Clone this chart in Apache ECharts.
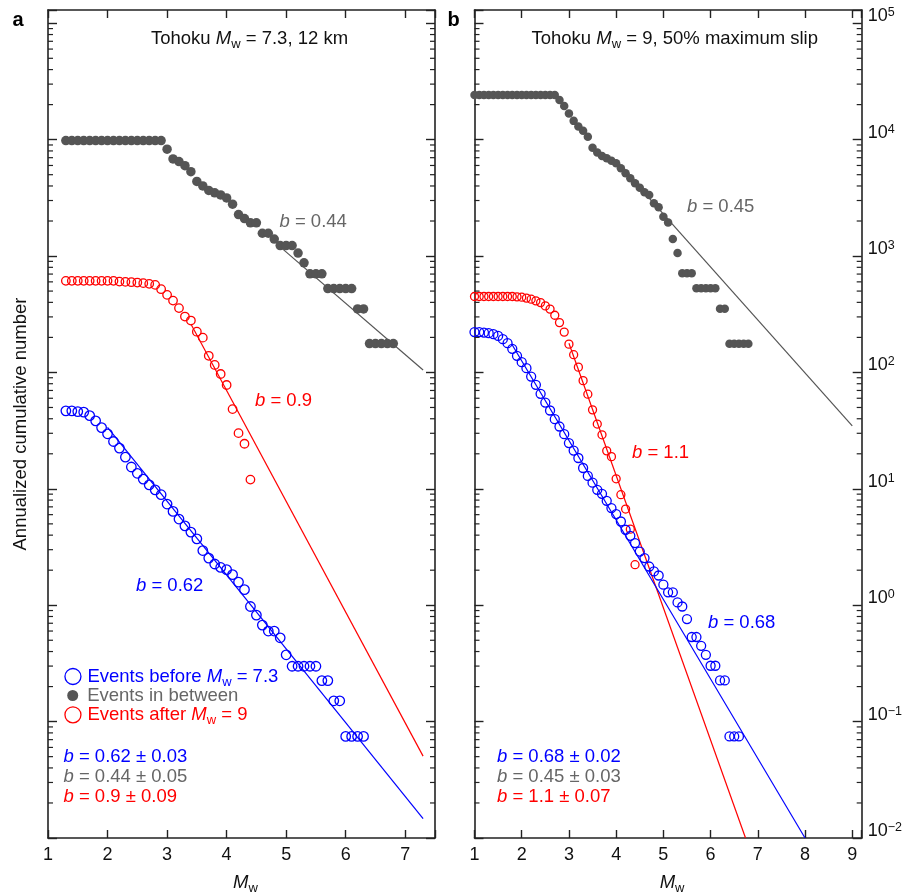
<!DOCTYPE html>
<html><head><meta charset="utf-8">
<script src="https://cdn.jsdelivr.net/npm/echarts@6/dist/echarts.min.js"></script>
<style>html,body{margin:0;padding:0;background:#fff}#c{width:903px;height:893px}</style>
</head><body><div id="c"></div>
<script>
// ---------------- DATA ----------------
// Panel a: Tohoku Mw = 7.3, 12 km
const aGrayM = [1.3,1.4,1.5,1.6,1.7,1.8,1.9,2.0,2.1,2.2,2.3,2.4,2.5,2.6,2.7,2.8,2.9,3.0,3.1,3.2,3.3,3.4,3.5,3.6,3.7,3.8,3.9,4.0,4.1,4.2,4.3,4.4,4.5,4.6,4.7,4.8,4.9,5.0,5.1,5.2,5.3,5.4,5.5,5.6,5.7,5.8,5.9,6.0,6.1,6.2,6.3,6.4,6.5,6.6,6.7,6.8];
const aGrayN = [9810,9810,9810,9810,9810,9810,9810,9810,9810,9810,9810,9810,9810,9810,9810,9810,9810,8280,6830,6480,5980,5310,4380,4000,3660,3490,3350,3160,2790,2270,2100,1930,1930,1570,1570,1400,1230,1230,1230,1060,875,703,703,703,526,526,526,526,526,351,351,177,177,177,177,177];
const aRedM = [1.3,1.4,1.5,1.6,1.7,1.8,1.9,2.0,2.1,2.2,2.3,2.4,2.5,2.6,2.7,2.8,2.9,3.0,3.1,3.2,3.3,3.4,3.5,3.6,3.7,3.8,3.9,4.0,4.1,4.2,4.3,4.4];
const aRedN = [612,612,612,612,612,612,612,612,612,603,600,596,592,585,577,565,519,464,414,357,302,279,224,199,139,116,97,78,48.4,30.1,24.4,12.0];
const aBlueM = [1.3,1.4,1.5,1.6,1.7,1.8,1.9,2.0,2.1,2.2,2.3,2.4,2.5,2.6,2.7,2.8,2.9,3.0,3.1,3.2,3.3,3.4,3.5,3.6,3.7,3.8,3.9,4.0,4.1,4.2,4.3,4.4,4.5,4.6,4.7,4.8,4.9,5.0,5.1,5.2,5.3,5.4,5.5,5.6,5.7,5.8,5.9,6.0,6.1,6.2,6.3];
const aBlueN = [46.8,46.8,46.1,45.6,42.6,38.4,33.6,29.7,25.5,22.4,18.7,15.4,13.6,12.1,10.8,9.8,8.9,7.4,6.4,5.5,4.8,4.25,3.72,2.95,2.54,2.26,2.11,2.02,1.83,1.58,1.36,0.975,0.823,0.675,0.6,0.6,0.525,0.375,0.299,0.299,0.299,0.299,0.299,0.225,0.225,0.151,0.151,0.0746,0.0746,0.0746,0.0746];
// fitted Gutenberg-Richter lines (end points)
const aGrayFitM = [4.9, 7.3],  aGrayFitN = [1198, 105];
const aRedFitM  = [3.4, 7.3],  aRedFitN  = [261, 0.0505];
const aBlueFitM = [2.0, 7.3],  aBlueFitN = [33.7, 0.0147];

// Panel b: Tohoku Mw = 9, 50% maximum slip
const bGrayM = [1.0,1.1,1.2,1.3,1.4,1.5,1.6,1.7,1.8,1.9,2.0,2.1,2.2,2.3,2.4,2.5,2.6,2.7,2.8,2.9,3.0,3.1,3.2,3.3,3.4,3.5,3.6,3.7,3.8,3.9,4.0,4.1,4.2,4.3,4.4,4.5,4.6,4.7,4.8,4.9,5.0,5.1,5.2,5.3,5.4,5.5,5.6,5.7,5.8,5.9,6.0,6.1,6.2,6.3,6.4,6.5,6.6,6.7,6.8];
const bGrayN = [24200,24200,24200,24200,24200,24200,24200,24200,24200,24200,24200,24200,24200,24200,24200,24200,24200,24200,21900,19500,16800,14500,13000,11900,10600,8540,7740,7250,6930,6600,6280,5680,5150,4660,4230,3870,3540,3350,2840,2630,2180,1940,1400,1060,712,712,712,530,530,530,530,530,352,352,176,176,176,176,176];
const bRedM = [1.0,1.1,1.2,1.3,1.4,1.5,1.6,1.7,1.8,1.9,2.0,2.1,2.2,2.3,2.4,2.5,2.6,2.7,2.8,2.9,3.0,3.1,3.2,3.3,3.4,3.5,3.6,3.7,3.8,3.9,4.0,4.1,4.2,4.3,4.4];
const bRedN = [449,449,449,449,449,449,449,449,449,446,443,435,426,412,398,373,350,310,268,222,175,142,111,85,65,47.7,36,29.1,21.2,18.9,12.2,8.9,6.7,4.5,2.23];
const bBlueM = [1.0,1.1,1.2,1.3,1.4,1.5,1.6,1.7,1.8,1.9,2.0,2.1,2.2,2.3,2.4,2.5,2.6,2.7,2.8,2.9,3.0,3.1,3.2,3.3,3.4,3.5,3.6,3.7,3.8,3.9,4.0,4.1,4.2,4.3,4.4,4.5,4.6,4.7,4.8,4.9,5.0,5.1,5.2,5.3,5.4,5.5,5.6,5.7,5.8,5.9,6.0,6.1,6.2,6.3,6.4,6.5,6.6];
const bBlueN = [222,222,220,217.5,213,206,193,178.5,159.4,138.8,122.6,108.9,92.2,78.2,65.5,55.1,47.1,39.7,34.3,29.5,24.7,21.3,18.4,15.1,12.9,11.3,9.8,9.06,7.89,6.83,6.07,5.24,4.45,3.95,3.42,2.89,2.54,2.15,1.95,1.8,1.5,1.29,1.29,1.056,0.975,0.76,0.533,0.533,0.448,0.375,0.302,0.302,0.226,0.226,0.0746,0.0746,0.0746];
const bGrayFitM = [4.6, 9.0],  bGrayFitN = [3490, 34.8];
const bRedFitM  = [3.0, 6.74], bRedFitN  = [178, 0.01];
const bBlueFitM = [1.8, 8.0],  bBlueFitN = [172, 0.01];

// axis ranges / ticks
const Y_MIN = 0.01, Y_MAX = 1.3e5;
const A_X_MAX = 7.5, B_X_MAX = 9.2;
const minorMultipliers = [2,3,4,5,6,7,8,9];
const minorDecades = [0.01,0.1,1,10,100,1000,10000];

// series names (legend)
const S_BEFORE = 'Events before Mw = 7.3';
const S_BETWEEN = 'Events in between';
const S_AFTER = 'Events after Mw = 9';

// ---------------- STYLE ----------------
const FONT = '"Liberation Sans", Arial, Helvetica, sans-serif';
const BLUE = '#0000ff', RED = '#ff0000', GRAY = '#555555', TGRAY = '#666666', AXIS = '#222222', TXT = '#111111';
const FS = 18.5;

function pairs(ms, ns) { return ms.map((m, i) => [m, ns[i]]); }

function optRich(color) {
  return {
    n: {color, fontSize: FS, fontFamily: FONT, lineHeight: 24},
    n0: {color, fontSize: FS, fontFamily: FONT, lineHeight: 24, padding: [0,0,0,1.5]},
    n4: {color, fontSize: FS, fontFamily: FONT, lineHeight: 24, padding: [0,0,0,4]},
    i: {color, fontSize: FS, fontFamily: FONT, fontStyle: 'italic', lineHeight: 24},
    s: {color, fontSize: 13, fontFamily: FONT, lineHeight: 13, verticalAlign: 'bottom'}
  };
}
function gRich(color) {
  return {
    n: {fill: color, fontSize: FS, fontFamily: FONT, lineHeight: 24},
    i: {fill: color, fontSize: FS, fontFamily: FONT, fontStyle: 'italic', lineHeight: 24},
    s: {fill: color, fontSize: 13, fontFamily: FONT, lineHeight: 13, verticalAlign: 'bottom'}
  };
}
function gText(x, y, text, color) {
  return {type: 'text', x, y, silent: true, z: 100,
    style: {text, rich: gRich(color), fill: color, fontSize: FS, fontFamily: FONT, align: 'left', verticalAlign: 'middle'}};
}
function gBold(x, y, text) {
  return {type: 'text', x, y, silent: true, z: 100,
    style: {text, fill: '#000', fontSize: 20, fontWeight: 'bold', fontFamily: FONT, align: 'left', verticalAlign: 'middle'}};
}

function xAx(gi, pos, max, labels) {
  return {
    type: 'value', gridIndex: gi, position: pos, min: 1, max: max, interval: 1,
    axisLine: {show: true, onZero: false, lineStyle: {color: AXIS, width: 1.6}},
    axisTick: {show: true, inside: true, length: 8, lineStyle: {color: AXIS, width: 1.4}},
    axisLabel: {show: labels, margin: 8, fontSize: 18, color: TXT, fontFamily: FONT,
      formatter: v => Number.isInteger(v) ? String(v) : ''},
    splitLine: {show: false},
    name: labels ? '{i|M}{s|w}' : '', nameLocation: 'middle', nameGap: 33,
    nameTextStyle: {rich: optRich(TXT), padding: [0, 0, 0, 8]}
  };
}
function powLabel(v) {
  const l = Math.log10(v), e = Math.round(l);
  if (Math.abs(l - e) > 1e-6) return '';
  return '{b|10}{e|' + (e < 0 ? '\u2212' + (-e) : e) + '}';
}
function yAx(gi, pos, labels, name) {
  return {
    type: 'log', logBase: 10, gridIndex: gi, position: pos, min: Y_MIN, max: Y_MAX,
    axisLine: {show: true, onZero: false, lineStyle: {color: AXIS, width: 1.6}},
    axisTick: {show: true, inside: true, length: 9, lineStyle: {color: AXIS, width: 1.4}},
    axisLabel: {show: labels, margin: 6, verticalAlign: 'bottom', formatter: powLabel,
      rich: {b: {fontSize: 18, color: TXT, fontFamily: FONT, lineHeight: 22, padding: [8, 0, 0, 0]},
             e: {fontSize: 12.5, color: TXT, fontFamily: FONT, lineHeight: 13, verticalAlign: 'top', padding: [5, 0, 0, 0]}}},
    splitLine: {show: false}, minorTick: {show: false},
    name: name || '', nameLocation: 'middle', nameGap: 18, nameRotate: 90,
    nameTextStyle: {fontSize: FS, color: TXT, fontFamily: FONT}
  };
}

function minorTicks(xi, yi, xMin, xMax) {
  const vals = [];
  minorDecades.forEach(d => minorMultipliers.forEach(m => vals.push(+(m * d).toPrecision(3))));
  return {
    type: 'custom', xAxisIndex: xi, yAxisIndex: yi, silent: true, clip: false, z: 6,
    data: vals.map(v => [xMin, v]),
    renderItem: (params, api) => {
      const v = api.value(1);
      const p0 = api.coord([xMin, v]), p1 = api.coord([xMax, v]);
      const st = {stroke: AXIS, lineWidth: 1.2};
      return {type: 'group', children: [
        {type: 'line', shape: {x1: p0[0], y1: p0[1], x2: p0[0] + 5, y2: p0[1]}, style: st},
        {type: 'line', shape: {x1: p1[0] - 5, y1: p1[1], x2: p1[0], y2: p1[1]}, style: st}
      ]};
    }
  };
}
function dots(name, xi, yi, ms, ns, size, color, filled) {
  return {
    name, type: 'scatter', xAxisIndex: xi, yAxisIndex: yi, data: pairs(ms, ns),
    symbol: 'circle', symbolSize: size, silent: true, z: filled ? 3 : 4,
    itemStyle: filled ? {color: color, borderWidth: 0, opacity: 1}
                      : {color: 'rgba(0,0,0,0)', borderColor: color, borderWidth: 1.3, opacity: 1}
  };
}
function fit(xi, yi, ms, ns, color) {
  return {type: 'line', xAxisIndex: xi, yAxisIndex: yi, data: pairs(ms, ns), symbol: 'none',
    showSymbol: false, silent: true, z: 2, lineStyle: {color, width: 1.2}};
}
function legendOf(name, left, top, size, color, filled, richText, textColor) {
  const tc = textColor || color;
  return {
    data: [name], left, top, padding: 0, orient: 'vertical', selectedMode: false,
    itemWidth: size, itemHeight: size, icon: 'circle',
    itemStyle: filled ? {color, borderWidth: 0} : {color: 'rgba(0,0,0,0)', borderColor: color, borderWidth: 1.3},
    formatter: () => richText,
    textStyle: {color: tc, fontSize: FS, fontFamily: FONT, rich: optRich(tc)}
  };
}

const option = {
  animation: false,
  backgroundColor: '#ffffff',
  textStyle: {fontFamily: FONT},
  grid: [
    {left: 48, top: 10, width: 387, height: 828, containLabel: false, outerBoundsMode: 'none'},
    {left: 474.5, top: 10, width: 387.2, height: 828, containLabel: false, outerBoundsMode: 'none'}
  ],
  xAxis: [xAx(0, 'bottom', A_X_MAX, true), xAx(0, 'top', A_X_MAX, false),
          xAx(1, 'bottom', B_X_MAX, true), xAx(1, 'top', B_X_MAX, false)],
  yAxis: [yAx(0, 'left', false, 'Annualized cumulative number'), yAx(0, 'right', false),
          yAx(1, 'left', false), yAx(1, 'right', true)],
  legend: [
    legendOf(S_BEFORE, 64.3, 667, 16, BLUE, false, '{n0|Events before }{i|M}{s|w}{n| = 7.3}'),
    legendOf(S_BETWEEN, 67.2, 686, 11, GRAY, true, '{n4|Events in between}', TGRAY),
    legendOf(S_AFTER, 64.3, 705.3, 16, RED, false, '{n0|Events after }{i|M}{s|w}{n| = 9}')
  ],
  graphic: [
    gBold(12.5, 20, 'a'),
    gBold(447.5, 20, 'b'),
    gText(151, 39, '{n|Tohoku }{i|M}{s|w}{n| = 7.3, 12 km}', TXT),
    gText(531.5, 39, '{n|Tohoku }{i|M}{s|w}{n| = 9, 50% maximum slip}', TXT),
    gText(279.5, 222, '{i|b}{n| = 0.44}', TGRAY),
    gText(255, 400.7, '{i|b}{n| = 0.9}', RED),
    gText(136, 586, '{i|b}{n| = 0.62}', BLUE),
    gText(63.5, 756.7, '{i|b}{n| = 0.62 \u00b1 0.03}', BLUE),
    gText(63.5, 776.7, '{i|b}{n| = 0.44 \u00b1 0.05}', TGRAY),
    gText(63.5, 796.7, '{i|b}{n| = 0.9 \u00b1 0.09}', RED),
    gText(687, 207.3, '{i|b}{n| = 0.45}', TGRAY),
    gText(632, 453.3, '{i|b}{n| = 1.1}', RED),
    gText(708, 622.7, '{i|b}{n| = 0.68}', BLUE),
    gText(497, 756.7, '{i|b}{n| = 0.68 \u00b1 0.02}', BLUE),
    gText(497, 776.7, '{i|b}{n| = 0.45 \u00b1 0.03}', TGRAY),
    gText(497, 796.7, '{i|b}{n| = 1.1 \u00b1 0.07}', RED)
  ],
  series: [
    minorTicks(0, 0, 1, A_X_MAX),
    minorTicks(2, 2, 1, B_X_MAX),
    fit(0, 0, aGrayFitM, aGrayFitN, GRAY),
    fit(0, 0, aRedFitM, aRedFitN, RED),
    fit(0, 0, aBlueFitM, aBlueFitN, BLUE),
    dots(S_BETWEEN, 0, 0, aGrayM, aGrayN, 9.5, GRAY, true),
    dots(S_AFTER, 0, 0, aRedM, aRedN, 8.5, RED, false),
    dots(S_BEFORE, 0, 0, aBlueM, aBlueN, 9.5, BLUE, false),
    fit(2, 2, bGrayFitM, bGrayFitN, GRAY),
    fit(2, 2, bRedFitM, bRedFitN, RED),
    fit(2, 2, bBlueFitM, bBlueFitN, BLUE),
    dots(S_BETWEEN, 2, 2, bGrayM, bGrayN, 8.5, GRAY, true),
    dots(S_AFTER, 2, 2, bRedM, bRedN, 8, RED, false),
    dots(S_BEFORE, 2, 2, bBlueM, bBlueN, 9, BLUE, false)
  ]
};

const chart = echarts.init(document.getElementById('c'), null, {renderer: 'canvas'});
chart.setOption(option);
</script>
</body></html>
